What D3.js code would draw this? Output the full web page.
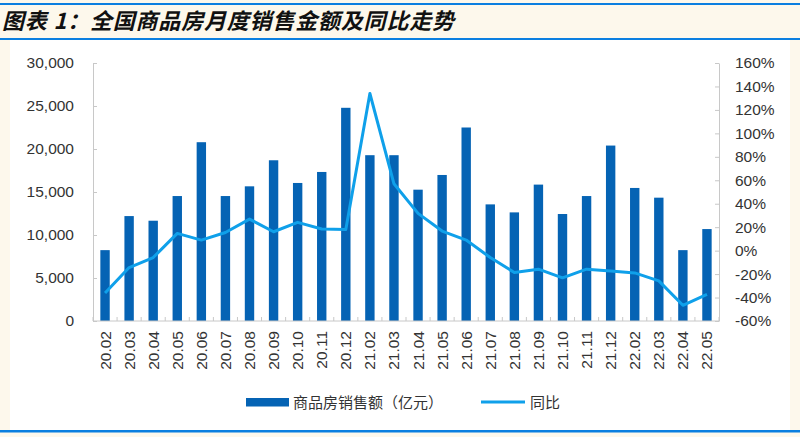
<!DOCTYPE html>
<html><head><meta charset="utf-8">
<script src="https://cdn.jsdelivr.net/npm/d3@7"></script>
<style>
body{margin:0;padding:0;background:#fdf8ec;}
svg{display:block;}
</style></head>
<body>
<svg id="c" width="800" height="437"></svg>
<script>
const months = ["20.02","20.03","20.04","20.05","20.06","20.07","20.08","20.09","20.10","20.11","20.12","21.02","21.03","21.04","21.05","21.06","21.07","21.08","21.09","21.10","21.11","21.12","22.02","22.03","22.04","22.05"];
const sales = [8240,12200,11660,14530,20790,14530,15660,18690,16050,17330,24790,19280,19280,15270,16980,22500,13560,12630,15860,12440,14530,20400,15470,14340,8240,10690];
const yoy = [-36.1,-14.4,-5.9,14.7,9,15.5,26.9,16.1,24.1,18.4,18.1,134,57,31.8,16.7,9,-5.9,-18.7,-15.8,-23.2,-15.8,-17.3,-19,-25.8,-46.6,-37.2];
const leftTicks = [0,5000,10000,15000,20000,25000,30000];
const rightTicks = [-60,-40,-20,0,20,40,60,80,100,120,140,160];
const title = "图表 1：全国商品房月度销售金额及同比走势";
const legendBar = "商品房销售额（亿元）";
const legendLine = "同比";

const svg = d3.select("#c");
const font = "'Liberation Sans', Arial, sans-serif";
const cjk = "'Noto Sans CJK SC', sans-serif";
const blue = "#0b7fe0";

// background frame
svg.append("rect").attr("x",0).attr("y",0).attr("width",800).attr("height",437).attr("fill","#fdf8ec");
svg.append("rect").attr("x",10).attr("y",40).attr("width",780).attr("height",390).attr("fill","#ffffff");
svg.append("rect").attr("x",0).attr("y",3).attr("width",800).attr("height",2).attr("fill",blue);
svg.append("rect").attr("x",0).attr("y",38).attr("width",800).attr("height",2).attr("fill",blue);
svg.append("rect").attr("x",0).attr("y",430).attr("width",800).attr("height",2.5).attr("fill",blue);

svg.append("text").attr("x",2).attr("y",29)
  .attr("font-family",cjk).attr("font-size",22).attr("font-weight","bold")
  .attr("font-style","italic").attr("fill","#111").attr("letter-spacing","0.8px")
  .text(title);

const L = 93, R = 719, T = 63, B = 321;
const x = d3.scaleBand().domain(months).range([L,R]).paddingInner(0.61).paddingOuter(0.305);
const yL = d3.scaleLinear().domain([0,30000]).range([B,T]);
const yR = d3.scaleLinear().domain([-60,160]).range([B,T]);

const axisColor = "#c8c8c8";
// left axis
const gl = svg.append("g").attr("transform",`translate(${L},0)`)
  .call(d3.axisLeft(yL).tickValues(leftTicks).tickFormat(d3.format(",")).tickSizeInner(-4).tickSizeOuter(0).tickPadding(19));
gl.select(".domain").attr("stroke",axisColor);
gl.selectAll(".tick line").attr("stroke",axisColor);
gl.selectAll("text").attr("font-family",font).attr("font-size",15.5).attr("fill","#333");

// right axis
const gr = svg.append("g").attr("transform",`translate(${R},0)`)
  .call(d3.axisRight(yR).tickValues(rightTicks).tickFormat(d=>d+"%").tickSizeInner(-4).tickSizeOuter(0).tickPadding(16));
gr.select(".domain").attr("stroke",axisColor);
gr.selectAll(".tick line").attr("stroke",axisColor);
gr.selectAll("text").attr("font-family",font).attr("font-size",15.5).attr("fill","#333");

// bars
svg.append("g").selectAll("rect").data(months).join("rect")
  .attr("x",d=>x(d)).attr("width",x.bandwidth())
  .attr("y",(d,i)=>yL(sales[i])).attr("height",(d,i)=>B-yL(sales[i]))
  .attr("fill","#0563b4");

// bottom axis
const step = x.step();
const boundaries = d3.range(months.length+1).map(i=>L + i*(R-L)/months.length);
svg.append("g").selectAll("line").data(boundaries).join("line")
  .attr("x1",d=>d).attr("x2",d=>d).attr("y1",B).attr("y2",B-4).attr("stroke",axisColor);
svg.append("line").attr("x1",L).attr("x2",R).attr("y1",B).attr("y2",B).attr("stroke",axisColor);
svg.append("g").selectAll("text").data(months).join("text")
  .attr("transform",d=>`translate(${x(d)+x.bandwidth()/2+5.5},331) rotate(-90)`)
  .attr("text-anchor","end").attr("font-family",font).attr("font-size",15.5).attr("fill","#333")
  .text(d=>d);

// line
const line = d3.line().x((d,i)=>x(months[i])+x.bandwidth()/2).y(d=>yR(d));
svg.append("path").datum(yoy).attr("d",line).attr("fill","none")
  .attr("stroke","#0fa0ea").attr("stroke-width",3).attr("stroke-linejoin","round");

// legend
svg.append("rect").attr("x",246).attr("y",398).attr("width",43).attr("height",8.5).attr("fill","#0563b4");
svg.append("text").attr("x",293).attr("y",408).attr("font-family",cjk).attr("font-size",15).attr("fill","#333").text(legendBar);
svg.append("line").attr("x1",481).attr("x2",525).attr("y1",402).attr("y2",402).attr("stroke","#0fa0ea").attr("stroke-width",3);
svg.append("text").attr("x",530).attr("y",408).attr("font-family",cjk).attr("font-size",15).attr("fill","#333").text(legendLine);
</script>
</body></html>
